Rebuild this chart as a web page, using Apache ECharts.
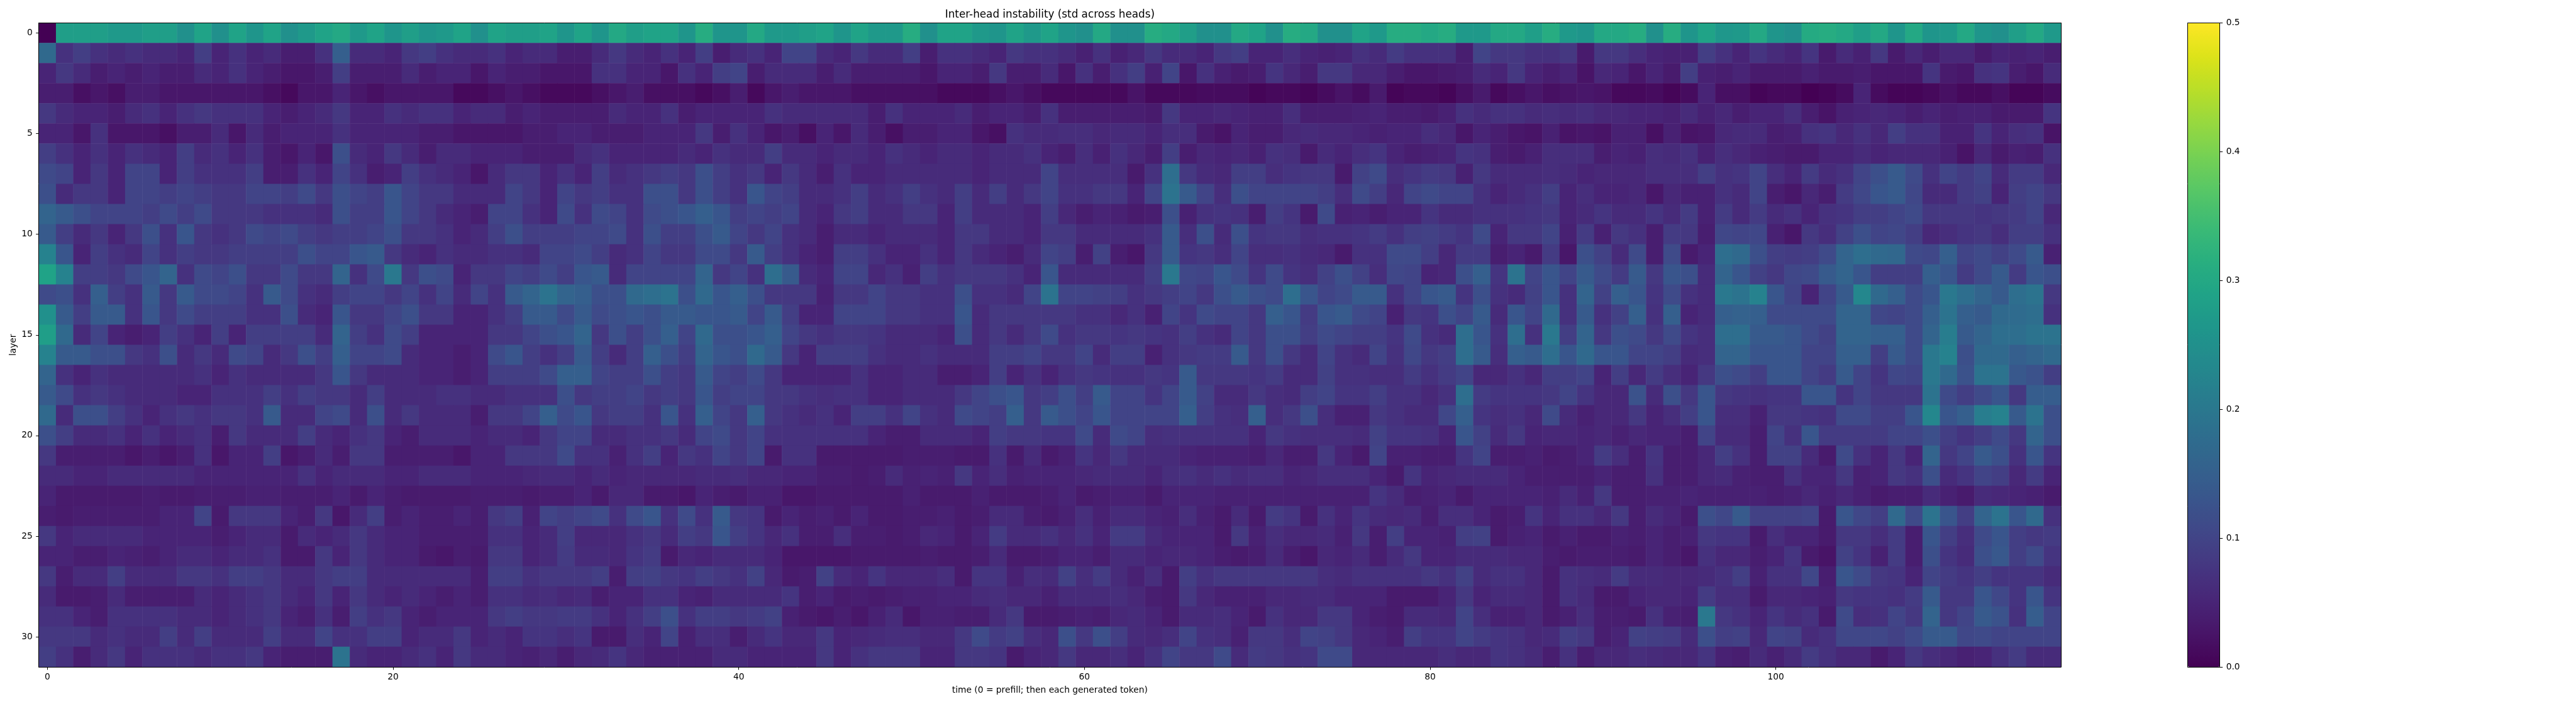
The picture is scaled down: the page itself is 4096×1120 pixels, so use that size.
<!DOCTYPE html>
<html><head><meta charset="utf-8">
<script src="https://cdn.jsdelivr.net/npm/echarts@6/dist/echarts.min.js"></script>
<style>html,body{margin:0;padding:0;background:#fff}#c{width:4096px;height:1120px}</style>
</head><body><div id="c"></div>
<script>
// values are std across heads, in hundredths
const row00=[0,28,28,28,27,27,28,28,25,29,25,29,26,29,25,27,29,30,27,29,26,28,26,27,29,25,29,28, 28,29,26,29,26,30,28,29,29,26,31,26,26,30,27,27,28,29,26,29,27,27,31,25,29,29,27,26,29,27, 29,26,25,30,25,25,31,30,28,25,25,30,29,25,31,30,25,25,29,27,31,31,30,31,27,27,30,30,28,31,27, 26,30,30,31,25,31,26,29,26.5,27,30,26,25,30.5,31,30,28,30,26,30,26,27,30,26,25,28,30,27];
const row01=[17,7,9,7,6,7,6,6,5,9,5,7,5,6,4,4,7,15,6,6,5,8,9,7,6,6,7,5, 6,6,4,4,6,8,6,5,7,5,9,4,6,7,5,10,10,6,5,8,6,6,9,4,7,7,6,5,8,7, 7,6,4.5,7,4.5,5.5,8,6,6,5,8,9,5,5,6.5,5,4.5,5,7,6,8.5,7,7,7,4,10,8,8,7,7,8, 3.5,8,8,6.5,5,4.5,4.5,9,7,5,7.5,6,5,7.5,3.5,6,4.5,8,3.5,5.5,4,5.5,5.5,3.5,5,4.5,5,4];
const row02=[5,8,6,4,5,4,5,4,4,6,5,7,5,4,3,3,4,9,4,4,4,6,4,5,5,3,5,4, 4,3,3,3,7,7,5,5,3,7,5,9,10,4,6,6,6,4,6,4,4,4,4,3,5,5,4,8,4,4, 6,3,7,4,7,9,4.5,10,3,7,4.5,3.5,4,7.5,5.5,4,8,8,5.5,5.5,4,3,3,3.5,4,6,5,8,5,4,5, 2.5,5.5,5,3,5,3.5,9,4.5,4,5,3.5,3.5,3.5,4.5,3.5,3.5,4,3,3,3,7.5,3.5,3,7,7.5,4,3,6];
const row03=[4,4,2,3,2,4,4,3,3,3,3,3,3,2,1,3,3,5,3,2,3,3,3,3,1,1,2,3, 2,1,1,1,2,3,4,2,2,2,1,2,4,1,3,4,3,3,3,2,2,2,2,2,1,1,1,2,3,2, 1,1,1,1,1,2.5,1,1,1,1.5,1.5,1.5,0.5,1,1,0.5,1.5,2.5,1.5,3.5,0.5,1,1,0.5,2,3.5,1,2,3,2,2.5, 3,2.5,1,1,1.5,0.5,1.5,5,2,2,0.5,1,1,0,0.5,1.5,5,1.5,0.5,0.5,1,2,1,1,2,0.5,0.5,1.5];
const row04=[8,6,5,5,4,6,7,5,7,8,7,7,7,5,4,5,6,8,5,5,7,6,7,7,5,6,6,4, 5,4,4,4,4,6,5,5,7,4,5,5,5,5,7,6,6,6,6,6,4,7,5,5,5,6,4,5,5,4, 7,4,4,4,4,4,3.5,8,5,5,5.5,5,4.5,4.5,6.5,4,4,4,4.5,5,4,4,3.5,4.5,7,6,7,7,6,6.5,6, 6.5,5.5,5.5,5,5,4.5,6,4.5,5.5,4,5,5,6.5,4,2.5,4.5,5,5.5,5,4,5,4,4.5,4.5,3.5,3.5,3.5,7.5];
const row05=[5,5,3,7,3,3,3,2,4,4,6,3,6,4,5,5,5,7,5,5,5,5,4,4,3,3,3,3, 4,4,5,5,4,4,4,5,5,5,8,4,7,5,3,4,2,5,3,6,4,2,4,4,5,5,3,2,7,6, 6,6.5,6.5,5.5,6,6,5,6.5,6.5,3.5,2.5,5,4,4,5.5,6,5.5,5.5,5,4.5,5,5,6.5,5.5,3,5,4,3,2.5,4.5,2.5, 3,2.5,4.5,4.5,2,4.5,2.5,3,5.5,6,6,4,4.5,7,7.5,5.5,7,5.5,9,7,7,4.5,4.5,7.5,5,6.5,7,2.5];
const row06=[9,7,5,7,5,7,6,5,9,6,7,5,7,4,3,5,3,12,6,5,8,6,4,6,6,5,5,5, 4,4,4,6,7,5,5,5,5,6,5,7,6,6,9,6,6,5,6,6,5,7,6,5,6,6,5,6,6,7, 5,4,6.5,4.5,7,5.5,4,9,4,5.5,5,5.5,4.5,7,6.5,3.5,6,5,6.5,7.5,5,4,4.5,5,7.5,7,4,3.5,4.5,6.5,6.5, 6.5,4,5,4.5,6.5,6,7,4.5,6.5,5.5,4.5,4,3.5,3.5,5,5,6,5,5.5,5.5,5.5,4.5,2.5,5.5,3.5,4.5,4,7];
const row07=[11,10,5,8,5,10,10,5,9,7,7,7,9,4,4,7,5,10,7,4,5,9,7,6,5,3,6,8, 8,5,7,5,9,6,7,8,9,8,12,9,7,8,5,8,6,4,7,5,5,6,6,6,6,6,5,6,6,6, 10,6.5,6.5,6.5,6.5,3.5,7,18,8,6,5.5,9,9,6.5,7.5,8,8,3.5,9.5,11,6.5,7.5,8.5,8,4.5,8,6,6,6,6.5,6, 5,5.5,5.5,5.5,6.5,6.5,6.5,9,7,7.5,10,6.5,5,8.5,6,7,10,12,14,11,7,10,8.5,10,6,8.5,8.5,5.5];
const row08=[12,6,8,8,5,10,10,9,10,9,8,8,10,10,9,11,8,12,10,9,13,10,8,8,6,6,6,10, 8,5,10,8,9,7,7,12,12,8,12,9,7,13,10,9,6,6,7,9,6,7,9,7,6,9,6,9,6,8, 10,7,7,8,8,5,10,19,14,10,6.5,12,10,10,10,10,9,6.5,11,9,5.5,10,11,10,10,7,5,6,7,9,5, 6.5,5,5,5.5,3,5.5,4.5,4.5,7,6,10,4,3,5.5,4,8.5,10.5,13,14,10.5,6,6,8.5,9.5,5,9,10,8];
const row09=[16,14,12,10,10,10,9,11,9,11,8,8,8,7,7,7,6,12,9,9,13,10,8,6,5,4,10,10, 7,5,11,7,11,10,7,11,12,13,15,13,9,10,9,10,6,5,8,9,6,6,8,8,5,9,6,6,6,5, 9,5.5,4,5,4.5,3.5,4,12,4.5,7,7.5,7,4,9,7.5,3.5,11,4.5,5,4,5,5,7.5,6,6,7,7,7,7.5,8,5, 6,7.5,6,6,7.5,6,8.5,4.5,8.5,6,8.5,6,7,5,7,7.5,9,9,10,11,8,8,8,7.5,8,8.5,10,5.5];
const row10=[14,9,6,8,5,8,12,7,13,8,7,8,11,10,11,9,8,9,9,10,12,8,8,7,5,6,9,12, 9,9,9,10,10,11,7,12,9,9,12,14,10,8,10,7,6,4,6,6,5,6,6,6,5,8,8,6,6,5, 8,8,6,6,6,6,7,14,6.5,12,6,12,7.5,8,8,6.5,7,7,7.5,8.5,7,9,9.5,8.5,7.5,11,5,8,8,10,4.5, 8.5,4.5,8,7,4,8.5,8,4,10.5,10,10.5,4.5,3,8,6.5,9.5,12,10,10.5,9,5.5,6.5,7.5,8,6.5,9,9,7];
const row11=[22,13,5,9,7,6,10,7,9,8,8,9,9,9,9,12,10,10,13,14,8,6,5,7,6,6,7,7, 6,10,10,11,9,6,7,10,8,8,11,11,8,14,9,7,5,4,9,9,7,5,5,7,5,8,6,5,4,6, 10,9,4,9.5,4,3,8,14,7.5,8,6.5,10,6.5,6.5,7,6,5.5,3.5,7,7,11,11,9,5.5,8.5,8.5,4,5,3.5,8.5,3, 12,9.5,6,11,4,11,3.5,5,18,17,12,9,8.5,9,11,16,18,17,16.5,11,10.5,15,10,11,9.5,11,14,4.5];
const row12=[29,22,9,9,8,11,13,16,7,11,10,12,8,8,11,8,8,16,7,11,20,8,12,11,5,8,8,10, 9,11,9,13,14,6,10,10,10,10,16,8,10,7,18,14,6,5,10,10,5.5,7,4.5,9,7,8,8,8,7,5, 13,6,6,6,6,6,9,20,10.5,10,13,11,7.5,11,7.5,6.5,9.5,12,9.5,6.5,10.5,10,5,5.5,12,15,7.5,19,10,13,10, 14,11,8.5,14,8,13,12,6,16,13,9.5,8,10.5,11,14,16,13,9,9,9,15,13,8.5,11,14,8.5,13,12];
const row13=[11,12,7,15,9,7,14,8,14,11,11,10,7,14,11,7,6,9,10,10,8,10,7,10,6,10,7,14, 16,19,16,15,12,12,17,18,19,12,17,13,15,12,8,8,8,4.5,8,8,10,8,8,7,7,12,7,7,6,10, 19,10,10,9.5,9,7,8,9,10,8,12,14,12,11,18,13,10,11,14,14,7,10,13,14,7.5,12,7,6,9.5,13,7, 16,9.5,15,13,7.5,11,7,6,20,19,22,13,10,5,10,14,23,17,15,11,13,20,18,16,14,18,19,8];
const row14=[25,14,9,14,14,7,13,8,11,9,9,9,7,7,12,6,5,13,8,8,10,12,8,8,5,5,7,9, 14,14,11,14,11,12,13,12,14,14,13,13,14,10,14,9,5,5,10,10,10,8,8,7,7,13,6,8,8,8, 8,8,7,7,5.5,7,4.5,10,7.5,11,10,10,8,15,13,8.5,13,14,11,10,4.5,8,7.5,12,10,14,6,13,10,17,7, 14,7,9.5,15,7,15,5,6,15,15.5,15,11,11,11,11,16,16,10.5,10,11,15,19,15,14,17,17.5,18,7];
const row15=[28,17,6,10,5,4,5,9,7,5,9,5,9,9,9,9,6,16,9,7,11,9,5,5,5,5,8,8, 10,12,13,16,8,12,9,12,15,10,17,12,12,13,15,10,8,7,8,8,7.5,6,6,6,5,12,6,8,6,8, 11,7,8,8,7.5,8,7.5,7,9,7,6,10,8,12,12,9,11,10,9,9,7.5,11,7,6,18,13,7,18,7,20,9, 16,8,12,11,8,11,7.5,6.5,18,18,14,14,13,11,9.5,16,16,15,15,11,16,21,14,16,18,18,19,19];
const row16=[22,14,14,12,12,8,7,12,6,8,6,11,10,6,8,12,9,15,10,10,11,6,5,5,4,5,11,13, 9,7,9,14,9,6,9,15,12,9,16,13,12,17,14,8,5,9,9,9,7,6,6,7,6,6,6,9,9,10, 8,8,10,6,9,9,4.5,7,8,8.5,8.5,14,8,12,8,6,10,7,6,10,7,10.5,8,9,18,14,6.5,15,14,18,13, 17,13,13,10,10,9,6,6.5,16,16,13,13,13,10,10,15,15,9,14,11,20,22,12,17,17,15,16,17];
const row17=[16,7,5,7,6,6,6,6,6,7,5,7,6,6,6,6,8,13,8,6,6,6,5,5,4,5,9,9, 9,11,15,15,10,9,9,12,9,8,14,10,9,11,8,5,5,5,5,7,5,5,6,6,4,4,5,9,5,7, 5,7,8,7.5,7,7,8,7.5,14,8,8,8,7.5,8.5,6,6,9.5,7,7,6.5,6.5,8.5,7,8.5,10,5.5,5.5,7,5.5,9,9, 10,5,9,5.5,8.5,6.5,5,8,12,11,9,13,13,10,8.5,14,10,7.5,10.5,10,20,17,12.5,19,19,13.5,12.5,9];
const row18=[14,11,7,8,7,6,6,6,5,5,7,7,7,9,7,9,8,8,6,9,6,6,6,7,7,6,6,7, 7,7,12,8,9,9,10,8,9,8,13,9,10,10,8,8,7,6.5,7,7,5,5,6,6,6,8,10,12,13,8, 9,12,9,14,10,10,7.5,10,14,9.5,6,6,8,6.5,6,9,10,7.5,7.5,9,7,7,5.5,7,18,8.5,7.5,7.5,7.5,8,10, 7.5,5.5,5.5,12.5,6,12,8,13,8,7.5,7,7.5,7.5,13,13,7.5,10,8,8,8,19,11,9,11,13,8,14.5,14.5];
const row19=[17,6,12,12,9,7,5,7,8,7,8,8,7,14,6,6,10,11,6,12,6,8,6,6,6,4,8,8, 10,15,11,13,8,9,9,7,13,7,15,10,8,15,8,7,6,7,5,9,9,7,10,7,6,11,10,9,15,8, 14,12,10,13,10,10,10,10,15,9,7,6.5,15,6.5,8,12,6.5,4.5,4.5,8,7,6,6,10.5,15,7.5,6.5,7,5.5,11,6, 4.5,5.5,5.5,8,5,6.5,9,13,6.5,6.5,4.5,8,8,7.5,7,11,11,9,9,13,23,13,15,21,22,14,19,12];
const row20=[12,9,6,6,7,5,7,5,6,7,4,8,6,6,6,9,6,5,7,8,5,4,6,6,6,5,6,6, 5,8,10,10,6,6,7,7,8,6,10,11,8,10,7,7,7,7,7,7,5,4,4,6,6,6,5,9,8,8, 7.5,7.5,11,6,11,10,6.5,7,7,7,7,7,5,8,7,6.5,6.5,6.5,6,9.5,7.5,7.5,7,5,13,9.5,6,8,5,5.5,5.5, 5,5.5,4.5,5.5,5,5,4,10,6,6,4,10,7,13,8.5,8.5,8.5,8.5,10,10,12,9,7.5,9,11,8,16,12];
const row21=[8,4,4,4,4,3,4,3,4,7,3,5,5,9,3,4,6,4,8,8,4,4,4,4,3,5,5,8, 8,8,11,7,7,4.5,7,9,5,8,7,10,8,10,3.5,7,7,3.5,3.5,3.5,3.5,3.5,4,4,4,3.5,3.5,7,3.5,6, 3.5,4.5,7.5,5.5,8,6,6,6,5,4.5,4.5,4.5,4,5.5,4,4,8,5,3.5,10,4.5,4.5,4,4,7.5,10,4,4,4.5,3.5,4, 5,8.5,6.5,4,7.5,4,4,5.5,9,7,4,9.5,9.5,6,3.5,11,7,5,8,5,16,8,10,14,12,7,13,7.5];
const row22=[6,6,5,5,6,6,6,6,6,5,5,5,5,5,5,7,5,6,6,6,5,5,6,6,6,5,5,5, 5.5,6,6,5,6,5,5.5,5.5,5.5,5.5,6,6,6.5,5.5,5.5,5,5,4,4,3.5,4,6,4.5,5,4.5,8,5,6.5,4.5,5, 5,5,5.5,6,6,6,5,6.5,7,6,7,6,6.5,6.5,5,5.5,6.5,6.5,6.5,5,3.5,7.5,5,5.5,6,6,6,5,4,4,4, 4,5,4,4,7,4,4,5.5,6,4.5,4,4,7,5,5,8,4.5,5,8,7,12,6,7.5,10,9,5.5,8.5,5];
const row23=[5,3.5,3.5,3.5,3.5,3.5,4,3.5,3.5,4,4,4,4.5,4.5,4,4,4,5,3.5,5,4,3.5,3.5,3.5,3.5,4,4,4, 3.5,4,4,5,3.5,5.5,5.5,3.5,3.5,3,5,4,3.5,4.5,4.5,3,3,3.5,3.5,3.5,3.5,3.5,4.5,3.5,3.5,3.5,4.5,3.5,3.5,3.5, 4,5,3.5,4,4.5,4.5,3.5,5,5,5,4.5,4.5,4.5,4.5,4.5,4.5,4.5,4.5,4.5,7.5,6,4,4.5,5,3.5,5,5,5,5,4.5,6, 4.5,8,4,4,4.5,4.5,5,4.5,4.5,4.5,4.5,4,4.5,5.5,4.5,5.5,4.5,3.5,4,4,6,4.5,3.5,6,5.5,5,4.5,3.5];
const row24=[4,3.5,4,4,4,4,4,5,5,10,3.5,8,8,8,5,4,8,3,6,9,4,5,4,4,5,4,8,9, 4.5,10,9,10,11,7,11,13,7,11,7,14,8,7.5,3.5,5,4,4.5,3.5,5,3.5,3.5,4,4,4.5,3.5,4,6,6,4, 3.5,4.5,6.5,4.5,6,6,5,4.5,6.5,4.5,3.5,6,3.5,8.5,7.5,3.5,7,5,7.5,6,5.5,6,4,6.5,6.5,5,3.5,4,7.5,5,7, 7,5.5,8,4,6,5,3.5,12,10.5,14,9.5,9.5,9.5,10,3.5,13,10.5,9,17,11,19,13,9,16,19,13,17,7];
const row25=[8,5,6,6,6,6,5,5,5,5,4,5,6,6,3.5,6,5,6,8,6,5,5,4,4,4,4,7,7, 5,6,9,5.5,5.5,5.5,7,8,6,9,8,13,9,7.5,5.5,7,4,4,6.5,4,4,3.5,4,5.5,5,3.5,5,8.5,6,6, 7,5.5,7,5,8.5,8.5,6,5,5,5,3.5,8,4.5,6.5,5.5,5.5,6,4.5,8,4,9,5,5,4.5,9,9.5,3.5,4.5,5,3.5,4.5, 3.5,3.5,4.5,4,5,4,4.5,8,7.5,7.5,3.5,6.5,5,5,3.5,8,8,6.5,8.5,4,13,9,6.5,11,13,9,8,8.5];
const row26=[5,5,4,4,5,4.5,4,5,6,6,5,6,6,7,3.5,3.5,8,5,8,6,5,5,3.5,3,4,3.5,8,8, 5,6,8.5,6,6,5.5,7.5,8.5,3.5,5.5,5,6,6,6,5,3,3,3,3,3.5,3.5,3.5,3.5,4,3.5,3.5,4,6,3.5,3.5, 4,5,5,4,6,6,5,5.5,5.5,5,4,3.5,4,6,4,3,5.5,5,6,4,6,8,5,5,6,6,6,5.5,5.5,4,3.5, 4,4,4,3.5,5,4,3,7,5.5,5.5,4,5,7.5,3.5,2.5,9.5,7.5,4.5,8.5,4,12,7.5,6,12,13.5,9,11,7.5];
const row27=[8,4,6,6,9,6,6,6,8,8,7,9,9,8,6,6,8,9,9,6,6,6,6,6,6,4,9,9, 7,8,8,8,9,4,9,9.5,8,7.5,9,8,7,9.5,5.5,3.5,4,9.5,6,5,7.5,5.5,5.5,5.5,6.5,3.5,7.5,7.5,4.5,6.5, 6,9.5,6.5,8.5,6,4.5,6.5,3.5,9,7,8,8,8,8,8,8,6.5,6,7,7,7,7,8,7,9.5,6,7,7,5.5,3.5,7, 6.5,6,8.5,6,6,5.5,5.5,6,7,9,4.5,7,7,10.5,4,13,11,8,7.5,5,10,8.5,7.5,9,7.5,7.5,7.5,6];
const row28=[6,3.5,3.5,4,6,4,4,4,4,6,5,6,7,8,6,5,8,5,8,6,5,6,5,4,5,4,7,7, 6,6.5,5.5,6,4,5,5,7,7,5,4.5,6,6,6,6,7.5,4,5,3.5,4,3.5,4,4.5,4.5,5,5,6,6.5,5.5,5.5, 4.5,6,6,6,6.5,5.5,4,3.5,8,5.5,4.5,4.5,4.5,5.5,5.5,6,6,5,5,5,3.5,3.5,3.5,5,8,5,6,6,5.5,3.5,7, 6,3.5,3.5,5,5.5,5.5,5,8.5,6.5,6.5,3.5,5.5,5.5,5,4.5,8,7.5,7.5,7,8.5,14,8,8,13,10.5,7.5,13,7.5];
const row29=[7,7,5,4,7,7,7,7,6,6,5,6,7,8,5,4,7,4,9,7,8,5,4,5,5,5,8,9, 8,8,8.5,8.5,7,5,7,9,12,7,9,9,8,8.5,9.5,4.5,3.5,3,4,3,4.5,6,3,4.5,4.5,4,4,6,8,3.5, 3.5,4,4.5,4,5.5,6,5,3.5,6,6,6.5,5,3.5,7,5.5,5.5,8,8,5,4,3.5,6,6,5.5,10,6.5,4.5,4.5,5.5,3.5,4.5, 6.5,4,4,3.5,7,4.5,4,20,8,7,5,7.5,6,7,3.5,11,6.5,7,10,8,16,8,10,14,12.5,7,14.5,10];
const row30=[8,8,8,6,7,6,6,9,6,9,6,6,6,9,6,6,10,7,7,9,9,5,6,6,8,5,6,5, 7.5,7.5,6.5,7.5,3.5,3.5,6.5,5,10,4.5,6.5,6.5,4,6,7.5,5.5,5.5,8,5,5.5,6,6.5,6.5,5.5,5.5,8,11,8.5,9.5,6.5, 5.5,12,8,12,9,6,5.5,6.5,10,7,6.5,4.5,8,8,6.5,10,9.5,8,5.5,5,4,9,7.5,7.5,10,8.5,7.5,7,5.5,6,9, 8,4,5,9.5,9,8.5,6,12,9,9.5,5.5,10,9.5,6,7,10.5,10.5,10.5,9.5,11,14,14,10.5,11,10,10,10,10];
const row31=[9,7,4,6,8,5,7,7,7,6,7,7,8,5,4,4,4,19,6,5,5,6,7,5,8,6,6,5, 4.5,5.5,4,5.5,6,7.5,5.5,4.5,4.5,4.5,4.5,6,6,5,5,5,5,8,5,7,8,8,8,5,5,8,8,7.5,3.5,5, 5.5,8,5.5,5.5,6.5,5,7,10,8,8,11,6,8.5,8,7,7.5,11,11,5.5,5.5,5.5,5.5,5.5,6.5,5.5,5.5,7.5,7,6,4,7, 4,5.5,5.5,6.5,6,5.5,5.5,7.5,4.5,4,6,4.5,6,8.5,7,5.5,5.5,3.5,5,8,6.5,5.5,4.5,5,7,8.5,6,6];
const layerRows=[row00,row01,row02,row03,row04,row05,row06,row07,row08,row09,row10,row11,row12,row13,row14,row15,row16,row17,row18,row19,row20,row21,row22,row23,row24,row25,row26,row27,row28,row29,row30,row31];
const timeLabels=Array.from({length:117},(_,i)=>String(i));
const layerLabels=Array.from({length:32},(_,i)=>String(i));
const viridis=['#440154','#481568','#482677','#453781','#404788','#39568C','#33638D','#2D708E','#287D8E','#238A8D','#1F968B','#20A387','#29AF7F','#3CBB75','#55C667','#73D055','#95D840','#B8DE29','#DCE319','#FDE725'];
const titleText='Inter-head instability (std across heads)';
const xName='time (0 = prefill; then each generated token)';
const yName='layer';

const cells=[];
layerRows.forEach((r,y)=>r.forEach((v,x)=>cells.push([x,y,v/100])));

const font='"DejaVu Sans"',tickSize=13.8;
const frame={show:true,onZero:false,lineStyle:{color:'#000',width:1}};
const tick={show:true,length:4.5,lineStyle:{color:'#000',width:1}};
const label={color:'#000',fontFamily:font,fontSize:tickSize};
const plot={left:61.7,top:36.5,width:3215.3,height:1024.6};
const bar={left:3478.6,top:36.5,width:51.1,height:1024.6};

const chart=echarts.init(document.getElementById('c'),null,{renderer:'canvas'});
chart.setOption({
  animation:false,
  backgroundColor:'#fff',
  title:{text:titleText,left:plot.left+plot.width/2-5,top:10.6,textAlign:'center',
    textStyle:{color:'#000',fontFamily:font,fontSize:16.8,fontWeight:'normal'}},
  grid:[plot,bar],
  xAxis:[
    {type:'category',gridIndex:0,data:timeLabels,position:'bottom',z:10,boundaryGap:true,
     axisLine:frame,axisTick:{...tick,alignWithLabel:true,interval:19},splitLine:{show:false},
     axisLabel:{...label,interval:19,margin:9},
     name:xName,nameLocation:'middle',nameGap:30.5,nameTextStyle:{...label}},
    {type:'category',gridIndex:0,data:timeLabels,position:'top',z:10,boundaryGap:true,
     axisLine:frame,axisTick:{show:false},axisLabel:{show:false},splitLine:{show:false}},
    {type:'value',gridIndex:1,min:0,max:1,position:'bottom',z:10,axisLine:frame,axisTick:{show:false},axisLabel:{show:false},splitLine:{show:false}},
    {type:'value',gridIndex:1,min:0,max:1,position:'top',z:10,axisLine:frame,axisTick:{show:false},axisLabel:{show:false},splitLine:{show:false}}
  ],
  yAxis:[
    {type:'category',gridIndex:0,data:layerLabels,inverse:true,position:'left',z:10,boundaryGap:true,
     axisLine:frame,axisTick:{...tick,alignWithLabel:true,interval:4},splitLine:{show:false},
     axisLabel:{...label,interval:4,margin:10},
     name:yName,nameLocation:'middle',nameGap:33.7,nameMoveOverlap:false,nameTextStyle:{...label}},
    {type:'category',gridIndex:0,data:layerLabels,inverse:true,position:'right',z:10,boundaryGap:true,
     axisLine:frame,axisTick:{show:false},axisLabel:{show:false},splitLine:{show:false}},
    {type:'value',gridIndex:1,min:0,max:0.5,interval:0.1,position:'right',z:10,
     axisLine:frame,axisTick:tick,splitLine:{show:false},
     axisLabel:{...label,margin:10,formatter:v=>v.toFixed(1)}},
    {type:'value',gridIndex:1,min:0,max:0.5,interval:0.1,position:'left',z:10,
     axisLine:frame,axisTick:{show:false},axisLabel:{show:false},splitLine:{show:false}}
  ],
  visualMap:{type:'continuous',min:0,max:0.5,seriesIndex:0,calculable:false,hoverLink:false,
    left:bar.left,top:bar.top,itemWidth:bar.width,itemHeight:bar.height,padding:0,text:null,showLabel:false,
    orient:'vertical',inRange:{color:viridis},textStyle:{color:'rgba(0,0,0,0)',fontSize:1}},
  series:[{type:'heatmap',xAxisIndex:0,yAxisIndex:0,data:cells,progressive:0,itemStyle:{borderWidth:0},emphasis:{disabled:true}}]
});
</script></body></html>
